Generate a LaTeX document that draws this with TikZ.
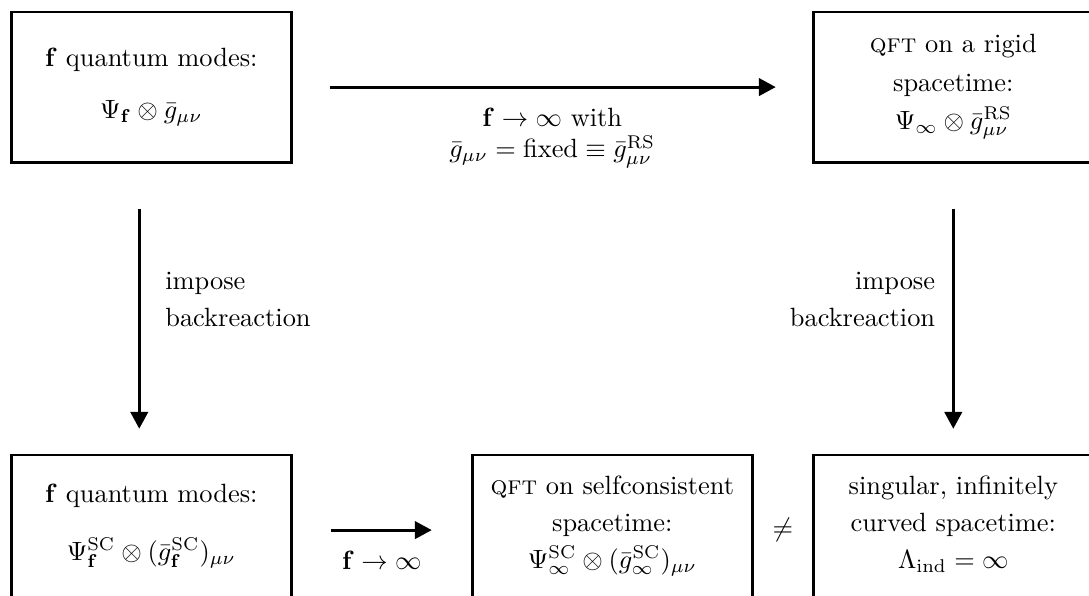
\documentclass[tikz,border=0pt]{standalone}
\usepackage{amsmath}
\usepackage{amssymb}
\usetikzlibrary{positioning,calc,arrows.meta}

\begin{document}
\begin{tikzpicture}[
            node distance=1.5cm,
            box/.style={
                    rectangle,
                    draw,
                    line width=1.1pt,
                    minimum width=3.73cm,
                    minimum height=2cm,
                    align=center
                },
            arrow/.style={-{Triangle[length=6.4pt,width=6.6pt]}, line width=1.1pt}
        ]
        \node[box] (fmodes) {$\mathbf{f}$ quantum modes:\\[8pt] $\Psi_{\mathbf{f}}\otimes\bar{g}_{\mu\nu}$};
        \node[box, right=6.91cm of fmodes] (rigid) {\textsc{qft} on a rigid\\[2.5pt] spacetime:\\[2.5pt] $\Psi_\infty\otimes\bar{g}^{\mathrm{RS}}_{\mu\nu}$};
        \node[box, below=3.86cm of fmodes] (scmodes) {$\mathbf{f}$ quantum modes:\\[10pt] $\Psi^{\mathrm{SC}}_{\mathbf{f}}\otimes(\bar{g}^{\mathrm{SC}}_{\mathbf{f}})_{\mu\nu}$\rule[-6pt]{0pt}{6pt}};
        \node[box, below=3.86cm of rigid] (singular) {singular, infinitely\\[2pt] curved spacetime:\\[2pt] $\Lambda_{\mathrm{ind}}=\infty$\rule[-6pt]{0pt}{6pt}};
        \node[box, right=2.37cm of scmodes] (selfcons) {\textsc{qft} on selfconsistent\\[2pt] spacetime:\\[2pt] $\Psi^{\mathrm{SC}}_\infty\otimes(\bar{g}^{\mathrm{SC}}_\infty)_{\mu\nu}$\rule[-6pt]{0pt}{6pt}};
        \node (neq) at ($(selfcons.east)!0.5!(singular.west)$) {$\neq$};

        % page is cut at the right and bottom edges
        \pgfresetboundingbox
        \useasboundingbox ([xshift=-0.13cm, yshift=0.14cm]fmodes.north west) rectangle ++(14.50,-7.93);

        \draw[arrow, shorten <=0.49cm, shorten >=0.48cm] (fmodes) -- (rigid)
            node[midway, below=4pt, align=center] {$\mathbf{f}\to\infty$ with\\ $\bar{g}_{\mu\nu}=\text{fixed}\equiv\bar{g}^{\mathrm{RS}}_{\mu\nu}$};
        \draw[arrow, shorten <=0.6cm, shorten >=0.33cm] ([xshift=-0.16cm]fmodes.south) -- ([xshift=-0.16cm]scmodes.north)
            node[pos=0.47, right=6pt, align=left] {impose\\[2pt] backreaction};
        \draw[arrow, shorten <=0.6cm, shorten >=0.33cm] (rigid) -- (singular)
            node[pos=0.47, left=3pt, align=right] {impose\\[2pt] backreaction};
        \draw[arrow, shorten <=0.51cm, shorten >=0.52cm] (scmodes) -- (selfcons)
            node[midway, below=4pt] {$\mathbf{f}\to\infty$};
    \end{tikzpicture}
\end{document}
